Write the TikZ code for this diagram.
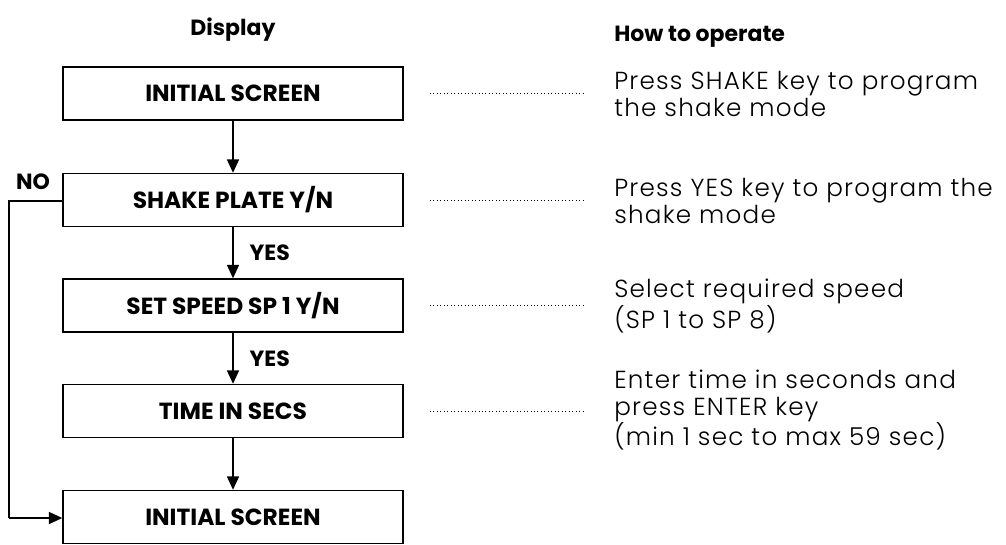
\documentclass[tikz,border=0pt]{standalone}
\usepackage{fontspec}
\setmainfont{Poppins}
\newfontfamily\notefont{Poppins Light}[LetterSpace=5]
\usetikzlibrary{arrows.meta}
\tikzset{
  screen/.style={draw, line width=1.1pt, minimum width=255pt, minimum height=39.75pt,
    font=\fontsize{17.5}{19}\selectfont\bfseries, inner sep=0pt},
  flow/.style={line width=1.1pt, -{Triangle[width=9pt,length=10pt]}},
  guide/.style={line width=0.6pt, dotted},
  note/.style={anchor=west, align=left, inner sep=0pt, font=\notefont\fontsize{18.5}{20.25}\selectfont},
  tag/.style={font=\fontsize{16.5}{18}\selectfont\bfseries, inner sep=0pt},
}
\begin{document}
\begin{tikzpicture}[x=0.75pt, y=-0.75pt]
\useasboundingbox (0,0) rectangle (1006,544);

\node[tag] (hdisp) at (233,30) {Display};
\node[tag, anchor=west] (hop) at (614,37) {How to operate};

\node[screen] (s1) at (233,93.5) {INITIAL SCREEN};
\node[screen] (s2) at (233,200) {SHAKE PLATE Y/N};
\node[screen] (s3) at (233,305.5) {SET SPEED SP 1 Y/N};
\node[screen] (s4) at (233,411) {TIME IN SECS};
\node[screen] (s5) at (233,517) {INITIAL SCREEN};

\draw[flow] (s1) -- (s2);
\draw[flow] (s2) -- (s3) node[tag, midway, right=12pt] (y1) {YES};
\draw[flow] (s3) -- (s4) node[tag, midway, right=12pt] (y2) {YES};
\draw[flow] (s4) -- (s5);

\coordinate (nt) at (9,201);
\coordinate (nb) at (9,518);
\draw[line width=1.1pt] (s2.west |- nt) -- (nt) -- (nb);
\draw[flow] (nb) -- (s5.west |- nb);
\node[tag] (no) at (33,182) {NO};

\node[note] (n1) at (614,93.5) {Press SHAKE key to program\\the shake mode};
\node[note] (n2) at (614,201) {Press YES key to program the\\shake mode};
\node[note] (n3) at (614,306) {Select required speed\\(SP 1 to SP 8)};
\node[note] (n4) at (614,410) {Enter time in seconds and\\press ENTER key\\(min 1 sec to max 59 sec)};

\coordinate (g1) at (430,0);
\coordinate (g2) at (583,0);
\foreach \s/\n in {s1/n1,s2/n2,s3/n3,s4/n4}
  \draw[guide] (g1 |- \s) -- (g2 |- \s);
\end{tikzpicture}
\end{document}
